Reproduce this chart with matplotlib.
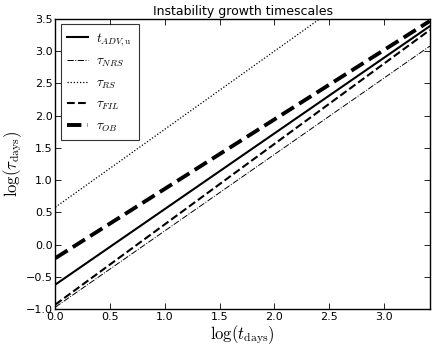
import numpy as np
import matplotlib
matplotlib.use("Agg")
import matplotlib.pyplot as plt

plt.rcParams['mathtext.fontset'] = 'cm'
plt.rcParams['font.family'] = 'DejaVu Sans'

# log(t_days) range and end values of each timescale line
log_t = np.array([0.0, 3.42])
tau_adv = np.array([-0.62, 3.39])
tau_nrs = np.array([-0.97, 3.08])
tau_rs = np.array([0.58, 4.72])
tau_fil = np.array([-0.93, 3.33])
tau_ob = np.array([-0.21, 3.47])

fig = plt.figure(figsize=(4.36, 3.52), dpi=100)
ax = fig.add_axes([0.127, 0.122, 0.859, 0.824])

ax.plot(log_t, tau_adv, color="black", linestyle="-", lw=1.5, label=r"$t_{ADV,\rm u}$")
ax.plot(log_t, tau_nrs, color="black", linestyle="-.", lw=0.7, label=r"$\tau_{NRS}$")
ax.plot(log_t, tau_rs, color="black", linestyle=(0, (1, 1.5)), lw=0.9, label=r"$\tau_{RS}$")
ax.plot(log_t, tau_fil, color="black", linestyle="--", lw=1.5, label=r"$\tau_{FIL}$")
ax.plot(log_t, tau_ob, color="black", linestyle="--", lw=2.8, label=r"$\tau_{OB}$")

ax.set_xlim(0, 3.42)
ax.set_ylim(-1.0, 3.5)
ax.set_xticks(np.arange(0, 3.01, 0.5))
ax.set_yticks(np.arange(-1.0, 3.51, 0.5))
ax.tick_params(direction="in", top=True, right=True, labelsize=8, length=4, width=0.6, pad=2)
for s in ax.spines.values():
    s.set_linewidth(1.0)

ax.set_title("Instability growth timescales", fontsize=9, pad=3)
ax.set_xlabel(r"$\log(t_{\rm days})$", fontsize=12, labelpad=1)
ax.set_ylabel(r"$\log(\tau_{\rm days})$", fontsize=12, labelpad=1)

leg = ax.legend(loc="upper left", fontsize=9.5, fancybox=False, edgecolor="black",
                handlelength=1.6, handletextpad=0.6, labelspacing=0.55,
                borderaxespad=0.4, borderpad=0.5)
leg.get_frame().set_linewidth(0.8)

fig.savefig("out.png", dpi=100)
